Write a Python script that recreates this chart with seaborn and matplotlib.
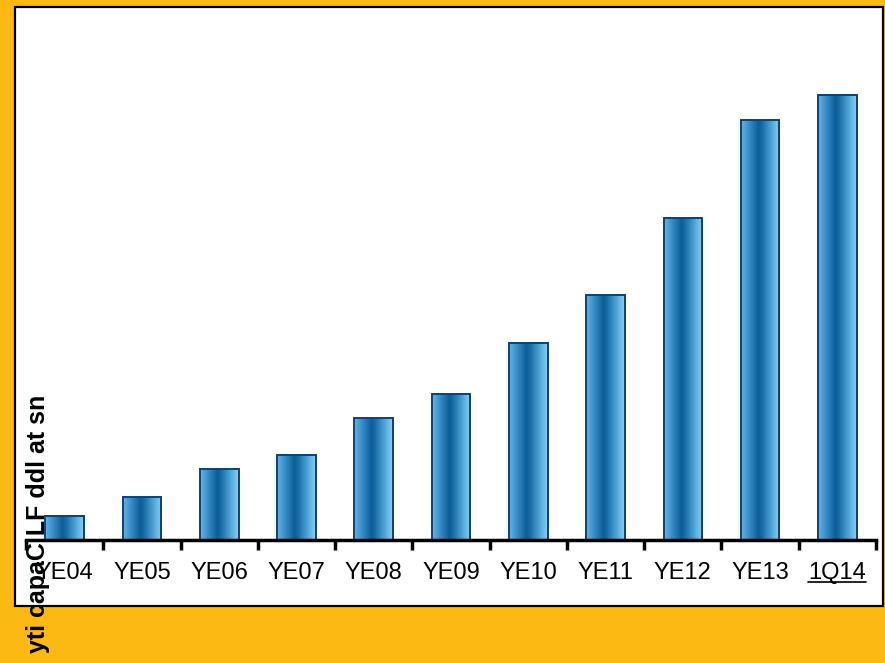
import numpy as np
import matplotlib
matplotlib.use("Agg")
import matplotlib.pyplot as plt
from matplotlib.colors import LinearSegmentedColormap
from matplotlib.patches import Rectangle
from matplotlib.lines import Line2D
import seaborn as sns

categories = ["YE04", "YE05", "YE06", "YE07", "YE08", "YE09",
              "YE10", "YE11", "YE12", "YE13", "1Q14"]
values = [24, 43, 71, 85, 122, 146, 197, 245, 322, 420, 445]
tick_labels = ["YE04", "YE05", "YE06", "YE07", "YE08", "YE09",
               "YE10", "YE11", "YE12", "YE13", "1Q14"]
underlined_label = "1Q14"
ylabel_text = "yti capaC LF ddl at sn"

sns.set_theme(style="white")
plt.rcParams["font.family"] = ["Liberation Sans", "DejaVu Sans"]

W, H = 885, 663
fig = plt.figure(figsize=(W / 100, H / 100), dpi=100)
fig.patch.set_facecolor("#FDB913")

# white panel with black border
panel = Rectangle((15 / W, 1 - 606 / H), 868 / W, 599 / H, transform=fig.transFigure,
                  facecolor="white", edgecolor="black", linewidth=1.6, zorder=0)
fig.add_artist(panel)

ax = fig.add_axes([26 / W, 1 - 540 / H, 850 / W, 532 / H])
ax.set_facecolor("none")

sns.barplot(x=categories, y=values, width=0.5, color="#1a6ea8", ax=ax,
            edgecolor="#123f6e", linewidth=1.4)

cmap = LinearSegmentedColormap.from_list("cyl", [
    (0.0, "#66b6e4"), (0.15, "#4299d0"), (0.45, "#0b5e98"),
    (0.55, "#1a6ea8"), (0.85, "#5fb4e4"), (1.0, "#8ad0f2")])
grad = np.linspace(0, 1, 256).reshape(1, -1)
for p in ax.patches:
    x0, w, h = p.get_x(), p.get_width(), p.get_height()
    ax.imshow(grad, cmap=cmap, extent=(x0, x0 + w, 0, h), aspect="auto",
              zorder=1, interpolation="bilinear")
    p.set_facecolor("none")
    p.set_zorder(2)

ax.set_xlim(-0.5, len(categories) - 0.5)
ax.set_ylim(0, 532)

for s in ["top", "right", "left"]:
    ax.spines[s].set_visible(False)
ax.spines["bottom"].set_linewidth(2.5)
ax.spines["bottom"].set_color("black")
ax.spines["bottom"].set_zorder(3)

ax.set_yticks([])
ax.set_xticks(range(len(categories)))
ax.set_xticklabels(tick_labels)
ax.set_xticks(np.arange(-0.5, len(categories), 1), minor=True)
ax.tick_params(axis="x", which="major", length=0, pad=16, labelsize=17, labelcolor="black")
ax.tick_params(axis="x", which="minor", length=7, width=2.5, color="black", direction="out", bottom=True)
ax.set_xlabel("")
ax.set_ylabel("")

fig.text(38 / W, 1 - 395 / H, ylabel_text, rotation=90, ha="center", va="top",
         fontsize=18, fontweight="bold", color="black", zorder=5)

# underline the last tick label
fig.canvas.draw()
renderer = fig.canvas.get_renderer()
for lab in ax.get_xticklabels():
    if lab.get_text() == underlined_label:
        bb = lab.get_window_extent(renderer)
        y_line = bb.y0 + 2.5
        fig.add_artist(Line2D([bb.x0 / W, bb.x1 / W], [y_line / H, y_line / H],
                              transform=fig.transFigure, color="black", linewidth=1.2))

fig.savefig("out.png", dpi=100, facecolor=fig.get_facecolor())
